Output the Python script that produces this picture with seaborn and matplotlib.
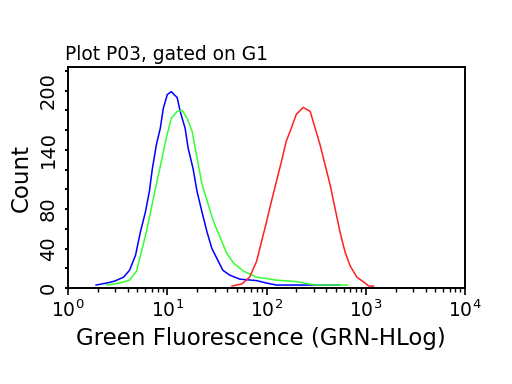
import numpy as np
import pandas as pd
import matplotlib
matplotlib.use("Agg")
import matplotlib.pyplot as plt
import seaborn as sns
from matplotlib.ticker import FixedLocator, FixedFormatter

# log10 of fluorescence and counts
blue_log = [0.28, 0.39, 0.47, 0.56, 0.62, 0.68, 0.73, 0.78, 0.82, 0.85,
            0.89, 0.93, 0.96, 1.00, 1.04, 1.10, 1.13, 1.18, 1.21, 1.26,
            1.30, 1.35, 1.40, 1.45, 1.50, 1.56, 1.63, 1.73, 1.90, 2.00,
            2.10, 2.74]
blue_count = [3, 5, 7, 11, 18, 33, 57, 77, 98, 121,
              145, 162, 182, 196, 199, 193, 179, 162, 142, 121,
              98, 77, 57, 40, 30, 18, 13, 9, 7.5, 5,
              3, 3]

green_log = [0.39, 0.52, 0.62, 0.69, 0.74, 0.79, 0.84, 0.89, 0.94, 0.99,
             1.04, 1.10, 1.15, 1.20, 1.25, 1.30, 1.35, 1.40, 1.46, 1.53,
             1.60, 1.67, 1.77, 1.90, 2.10, 2.30, 2.49, 2.82]
green_count = [3, 5, 8, 17, 37, 57, 81, 105, 128, 152,
               172, 179, 180, 172, 159, 132, 105, 89, 69, 52,
               35, 25, 17, 11, 8, 6.5, 3, 3]

red_log = [1.65, 1.75, 1.83, 1.90, 1.95, 2.00, 2.05, 2.10, 2.15, 2.20,
           2.25, 2.30, 2.37, 2.44, 2.49, 2.54, 2.59, 2.64, 2.69, 2.74,
           2.79, 2.84, 2.91, 2.98, 3.03, 3.08]
red_count = [2, 4, 11, 27, 47, 67, 88, 108, 128, 149,
             162, 176, 183, 179, 162, 145, 125, 105, 81, 57,
             37, 23, 11, 6, 2, 2]

y_ticks = list(range(0, 221, 20))
y_labels = ["0", "", "40", "", "80", "", "", "140", "", "", "200", ""]

frames = []
for name, lg, cnt in [("blue", blue_log, blue_count),
                      ("green", green_log, green_count),
                      ("red", red_log, red_count)]:
    frames.append(pd.DataFrame({"fl": np.power(10.0, lg), "count": cnt,
                                "sample": name, "order": range(len(lg))}))
df = pd.concat(frames, ignore_index=True)

sns.set_style("ticks")
plt.rcParams['font.family'] = ['DejaVu Sans']
plt.rcParams['text.color'] = 'black'
plt.rcParams['axes.labelcolor'] = 'black'
plt.rcParams['xtick.color'] = 'black'
plt.rcParams['ytick.color'] = 'black'

fig = plt.figure(figsize=(5.12, 3.84), dpi=100)
ax = fig.add_axes([68 / 512, 96 / 384, 397 / 512, 221 / 384])

palette = {"blue": "#0000ff", "green": "#33ff33", "red": "#ff2020"}
sns.lineplot(data=df, x="fl", y="count", hue="sample", units="sample",
             estimator=None, sort=False, palette=palette, linewidth=1.1,
             legend=False, ax=ax)

ax.set_xscale("log")
ax.set_xlim(1, 1e4)
ax.set_ylim(0, 224)

ax.yaxis.set_major_locator(FixedLocator(y_ticks))
ax.yaxis.set_major_formatter(FixedFormatter(y_labels))
for lab in ax.get_yticklabels():
    lab.set_rotation(90)
    lab.set_va("center")
ax.tick_params(axis="y", length=2.5, width=1.5, labelsize=14, pad=5)
ax.tick_params(axis="x", which="major", length=5, width=1.2, labelsize=13.5, pad=3)
ax.tick_params(axis="x", which="minor", length=3, width=1.0)

for sp in ax.spines.values():
    sp.set_linewidth(1.4)
    sp.set_color("black")

ax.set_xlabel("Green Fluorescence (GRN-HLog)", fontsize=16.5)
ax.xaxis.set_label_coords(0.485, -0.175)
ax.set_ylabel("Count", fontsize=16.5, labelpad=4)
ax.set_title("Plot P03, gated on G1", loc="left", fontsize=13.4, pad=5, x=-0.008)

fig.savefig("out.png", dpi=100)
